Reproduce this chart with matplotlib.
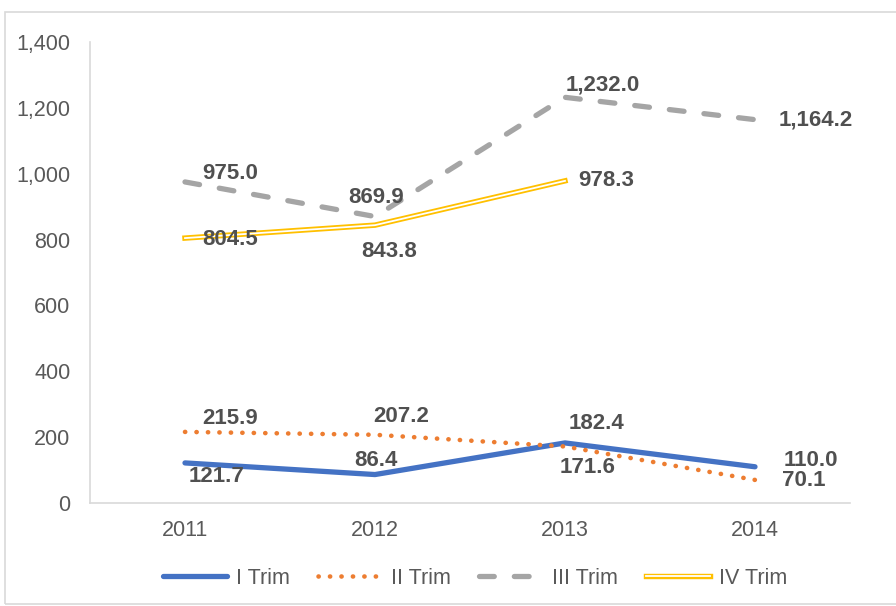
import matplotlib
matplotlib.use("Agg")
import matplotlib.pyplot as plt
import matplotlib.patheffects as pe
from matplotlib.patches import Rectangle

years = ["2011", "2012", "2013", "2014"]
trim1 = [121.7, 86.4, 182.4, 110.0]
trim2 = [215.9, 207.2, 171.6, 70.1]
trim3 = [975.0, 869.9, 1232.0, 1164.2]
trim4 = [804.5, 843.8, 978.3]
series_names = ["I Trim", "II Trim", "III Trim", "IV Trim"]
yticks = [0, 200, 400, 600, 800, 1000, 1200, 1400]

# label offsets in pixels (dx, dy)
off1 = [(32, -14), (1, 14), (31, 19), (56, 6)]
off2 = [(45, 13), (26, 18), (23, -21), (49, -1)]
off3 = [(45, 8), (1, 19), (38, 12), (61, 0)]
off4 = [(45, -1), (14, -26), (41, 0)]

plt.rcParams['font.family'] = ['Liberation Sans', 'DejaVu Sans']

W, H = 896, 606
fig = plt.figure(figsize=(W / 100, H / 100), dpi=100)
ax = fig.add_axes([90 / W, 1 - 503 / H, 760 / W, 461 / H])

x = list(range(len(years)))
l1, = ax.plot(x, trim1, color="#4472C4", lw=3.8, solid_capstyle="round", solid_joinstyle="round", label=series_names[0])
l2, = ax.plot(x, trim2, color="#ED7D31", lw=3.3, linestyle=(0, (0.05, 2.45)), dash_capstyle="round", label=series_names[1])
l3, = ax.plot(x, trim3, color="#A5A5A5", lw=3.8, linestyle=(0, (2.8, 3.8)), dash_capstyle="round", label=series_names[2])
l4, = ax.plot(x[:3], trim4, color="white", lw=1.3, label=series_names[3],
              path_effects=[pe.Stroke(linewidth=3.9, foreground="#FFC000"), pe.Normal()])

def fmt(v):
    return f"{v:,.1f}"

for vals, offs in [(trim1, off1), (trim2, off2), (trim3, off3), (trim4, off4)]:
    for i, (v, o) in enumerate(zip(vals, offs)):
        ax.annotate(fmt(v), (i, v), xytext=o, textcoords="offset pixels",
                    ha="center", va="center", fontsize=16, fontweight="bold", color="#505050")

ax.set_xlim(-0.5, 3.5)
ax.set_ylim(0, 1400)
ax.set_yticks(yticks)
ax.set_yticklabels([f"{t:,}" for t in yticks])
ax.set_xticks(x)
ax.set_xticklabels(years)
ax.tick_params(axis="both", length=0, labelsize=15.5, labelcolor="#595959")
ax.tick_params(axis="y", pad=14)
ax.tick_params(axis="x", pad=12)
for s in ["top", "right"]:
    ax.spines[s].set_visible(False)
ax.spines["left"].set_color("#D9D9D9")
ax.spines["bottom"].set_color("#D9D9D9")
ax.spines["left"].set_linewidth(1.2)
ax.spines["bottom"].set_linewidth(1.2)

fig.legend(handles=[l1, l2, l3, l4], loc="center", bbox_to_anchor=(475 / W, 1 - 578 / H),
           ncol=4, frameon=False, fontsize=15.5, handlelength=3.0, columnspacing=1.3,
           handletextpad=0.4, labelcolor="#595959")

fig.patches.append(Rectangle((5 / W, 1 - 604 / H), (W + 10) / W, 592 / H, transform=fig.transFigure,
                             fill=False, edgecolor="#D9D9D9", lw=1.2))

fig.savefig("out.png", dpi=100)
